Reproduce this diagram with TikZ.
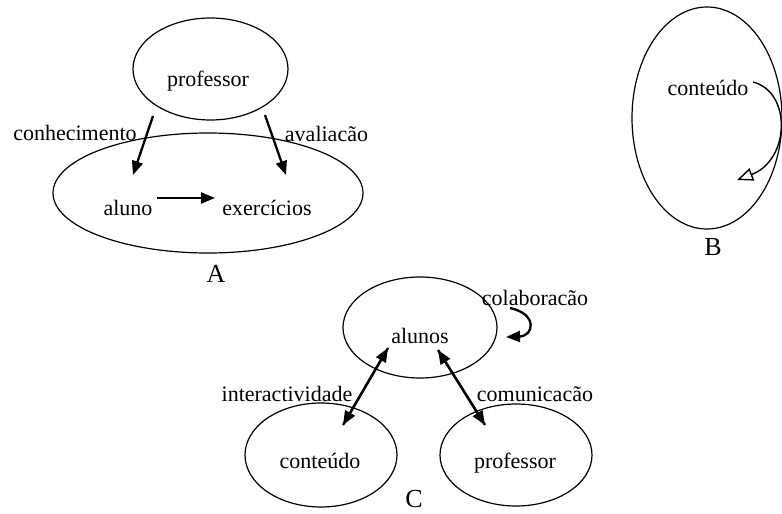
\documentclass[tikz,border=0pt]{standalone}
\usepackage{fontspec}
\setmainfont{Liberation Serif}
\usetikzlibrary{arrows.meta,shapes.geometric}

\begin{document}
\begin{tikzpicture}[x=1pt, y=-1pt, >={Triangle[length=14pt,width=11pt]},
  font=\fontsize{22}{26}\selectfont,
  oval/.style={draw, ellipse, line width=1.2pt, inner sep=0pt},
  lbl/.style={anchor=base, inner sep=0pt},
  letra/.style={lbl, font=\fontsize{26}{30}\selectfont},
  seta/.style={->, line width=2.3pt}]
  \useasboundingbox (0,0) rectangle (782,514);
  % A
  \node[oval, minimum width=155pt, minimum height=102pt] (profA) at (210.5,69) {};
  \node[oval, minimum width=310pt, minimum height=120pt] (turma) at (208,193) {};
  \node[lbl] (profAtxt) at (208,86) {professor};
  \node[lbl] (aluno) at (128,215) {aluno};
  \node[lbl] (exerc) at (267,215) {exercícios};
  \node[lbl] (conh) at (75,140) {conhecimento};
  \node[lbl] (aval) at (326.5,141) {avaliacão};
  \node[letra] (labA) at (216,282) {A};
  \coordinate (conhIni) at (153,116);
  \coordinate (conhFim) at (133,175);
  \coordinate (avalIni) at (265,115);
  \coordinate (avalFim) at (286,175);
  \coordinate (alunoDir) at (157,198);
  \coordinate (exercEsq) at (215,198);
  \draw[seta] (conhIni) -- (conhFim);
  \draw[seta] (avalIni) -- (avalFim);
  \draw[seta] (alunoDir) -- (exercEsq);
  % B
  \node[oval, minimum width=150pt, minimum height=222pt] (elB) at (707,118) {};
  \node[lbl] (contB) at (708,95) {conteúdo};
  \node[letra] (labB) at (713,255) {B};
  \coordinate (voltaIni) at (753,82);
  \coordinate (voltaFim) at (737,180);
  \draw[-{Triangle[open,length=16pt,width=13pt]}, line width=1.4pt] (voltaIni) .. controls (792,92) and (790,160) .. (voltaFim);
  % C
  \node[oval, minimum width=154pt, minimum height=101pt] (alunosC) at (420,327.5) {};
  \node[oval, minimum width=152pt, minimum height=104pt] (contC) at (321,455) {};
  \node[oval, minimum width=152pt, minimum height=102pt] (profC) at (516,455) {};
  \node[lbl] (alunostxt) at (420,343) {alunos};
  \node[lbl] (conttxt) at (320,468) {conteúdo};
  \node[lbl] (proftxt) at (515,468) {professor};
  \node[lbl] (colab) at (535,305) {colaboracão};
  \node[lbl] (inter) at (287,401) {interactividade};
  \node[lbl] (comun) at (535,401) {comunicacão};
  \node[letra] (labC) at (414,507) {C};
  \coordinate (interTopo) at (388,348);
  \coordinate (interBase) at (343,425);
  \coordinate (comunTopo) at (438,350);
  \coordinate (comunBase) at (485,425);
  \coordinate (colabIni) at (510,308);
  \coordinate (colabFim) at (506,337);
  \draw[seta] (interBase) -- (interTopo);
  \draw[seta] (interTopo) -- (interBase);
  \draw[seta] (comunTopo) -- (comunBase);
  \draw[seta] (comunBase) -- (comunTopo);
  \draw[seta] (colabIni) .. controls (538,314) and (534,336) .. (colabFim);
\end{tikzpicture}
\end{document}
